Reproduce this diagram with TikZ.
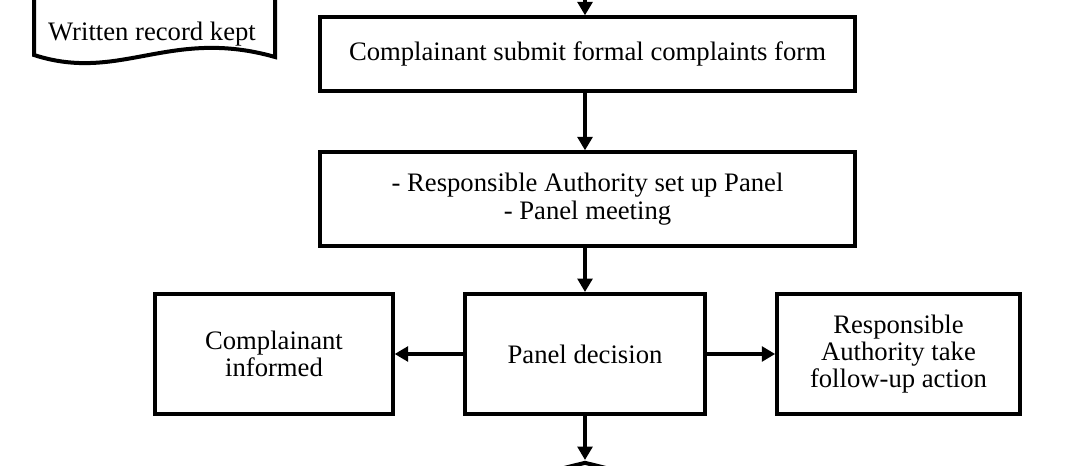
\documentclass[tikz,border=0pt]{standalone}
\usepackage{fontspec}
\setmainfont{Liberation Serif}
\usetikzlibrary{arrows.meta,shapes.geometric}

\begin{document}
\begin{tikzpicture}[x=0.75pt,y=0.75pt,yscale=-1,xscale=1,
    flowbox/.style={draw,line width=3pt,rectangle,align=center,inner sep=0pt,
        font=\fontsize{20}{20.5}\selectfont},
    flowarrow/.style={line width=3pt,-{Triangle[length=10pt,width=11pt]}}]
\useasboundingbox (0,0) rectangle (1088,466);
\clip (0,0) rectangle (1088,466);

%Document shape
    \draw [line width=3pt] (34,-20) -- (34,55) .. controls (120,83) and (170,27) .. (275,57) -- (275,-20) ;
% Text Node
    \node (record) at (152,34) [font=\fontsize{20}{20.5}\selectfont] {Written record kept};

%Boxes
    \node (submit) at (587.5,54) [flowbox,minimum width=401pt,minimum height=55pt] {Complainant submit formal complaints form};
    \node (panel) at (587.5,199) [flowbox,minimum width=401pt,minimum height=70pt] {- Responsible Authority set up Panel\\- Panel meeting};
    \node (decision) at (585,354) [flowbox,minimum width=180pt,minimum height=90pt] {Panel decision};
    \node (informed) at (274,354) [flowbox,minimum width=178pt,minimum height=90pt] {Complainant\\informed};
    \node (followup) at (898.5,354) [flowbox,minimum width=182pt,minimum height=90pt] {Responsible\\Authority take\\follow-up action};
%Next decision (cut off)
    \node (next) at (585,512) [draw,line width=3pt,diamond,inner sep=0pt,minimum width=300pt,minimum height=75pt] {};
    \coordinate (above) at (585,-20);

%Arrows
    \draw [flowarrow] (above) -- (above |- submit.north);
    \draw [flowarrow] (submit.south -| decision) -- (panel.north -| decision);
    \draw [flowarrow] (panel.south -| decision) -- (decision.north);
    \draw [flowarrow] (decision.west) -- (informed.east);
    \draw [flowarrow] (decision.east) -- (followup.west);
    \draw [flowarrow] (decision.south) -- (next.north);

\end{tikzpicture}
\end{document}
